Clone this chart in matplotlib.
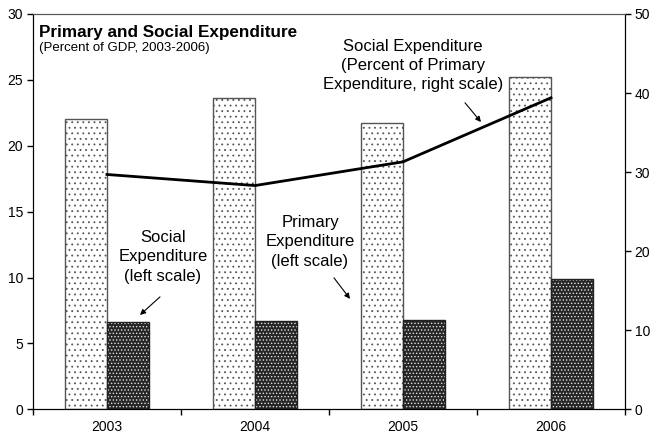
import matplotlib
matplotlib.use("Agg")
import matplotlib.pyplot as plt
import numpy as np

plt.rcParams['font.family'] = ['Liberation Sans', 'DejaVu Sans']
plt.rcParams['hatch.linewidth'] = 0.6

years = ["2003", "2004", "2005", "2006"]
primary_exp = [22.0, 23.6, 21.7, 25.2]      # percent of GDP, left scale
social_exp = [6.6, 6.7, 6.8, 9.9]           # percent of GDP, left scale
social_share = [29.7, 28.3, 31.3, 39.4]     # percent of primary expenditure, right scale

x = np.arange(len(years))
w = 0.284

fig = plt.figure(figsize=(6.68, 4.37), dpi=100)
ax = fig.add_axes([0.0494, 0.0634, 0.8862, 0.9046])
ax2 = ax.twinx()

ax.bar(x - w / 2, primary_exp, w, facecolor="white", edgecolor="#555555",
       hatch="...", linewidth=1.0, zorder=2)
# dark bars with light dots: fill + hatch first, then the outline on top
ax.bar(x + w / 2, social_exp, w, facecolor="#262626", edgecolor="#e0e0e0",
       hatch=".....", linewidth=0, zorder=2)
ax.bar(x + w / 2, social_exp, w, fill=False, edgecolor="#222222",
       linewidth=1.0, zorder=3)

ax2.plot(x, social_share, color="black", lw=2.0, zorder=4)

ax.set_xlim(-0.5, 3.5)
ax.set_ylim(0, 30)
ax2.set_ylim(0, 50)
ax.set_yticks(range(0, 31, 5))
ax2.set_yticks(range(0, 51, 10))

# category labels sit on minor ticks, the tick marks go between categories
ax.set_xticks(np.arange(-0.5, 4, 1.0))
ax.set_xticklabels([])
ax.set_xticks(x, minor=True)
ax.set_xticklabels(years, minor=True)
ax.tick_params(axis="x", which="major", direction="out", length=4, width=1)
ax.tick_params(axis="x", which="minor", length=0, pad=8, labelsize=10)
ax.tick_params(axis="y", direction="out", length=4, width=1, labelsize=10, pad=3)
ax2.tick_params(axis="y", direction="out", length=4, width=1, labelsize=10, pad=3)

for a in (ax, ax2):
    a.spines["top"].set_color("#555555")
    a.spines["left"].set_color("black")
    a.spines["right"].set_color("black")
    a.spines["bottom"].set_color("black")

ax.set_zorder(ax2.get_zorder() - 1)
ax2.patch.set_visible(False)

ax.text(0.01, 0.954, "Primary and Social Expenditure", transform=ax.transAxes,
        fontsize=12.3, fontweight="bold", va="center", ha="left")
ax.text(0.01, 0.914, "(Percent of GDP, 2003-2006)", transform=ax.transAxes,
        fontsize=9.5, va="center", ha="left")

arrow = dict(arrowstyle="-|>", color="black", lw=0.8, mutation_scale=8,
             shrinkA=0, shrinkB=0)
ax.text(0.378, 11.56, "Social\nExpenditure\n(left scale)", ha="center",
        va="center", fontsize=12, linespacing=1.35)
ax.annotate("", xy=(0.223, 7.16), xytext=(0.358, 8.53), arrowprops=arrow)

ax.text(1.372, 12.70, "Primary\nExpenditure\n(left scale)", ha="center",
        va="center", fontsize=12, linespacing=1.35)
ax.annotate("", xy=(1.642, 8.38), xytext=(1.534, 9.97), arrowprops=arrow)

ax.text(2.068, 26.07, "Social Expenditure\n(Percent of Primary\nExpenditure, right scale)",
        ha="center", va="center", fontsize=12, linespacing=1.35)
ax.annotate("", xy=(2.527, 21.8), xytext=(2.419, 23.26), arrowprops=arrow)

fig.savefig("out.png", dpi=100)
